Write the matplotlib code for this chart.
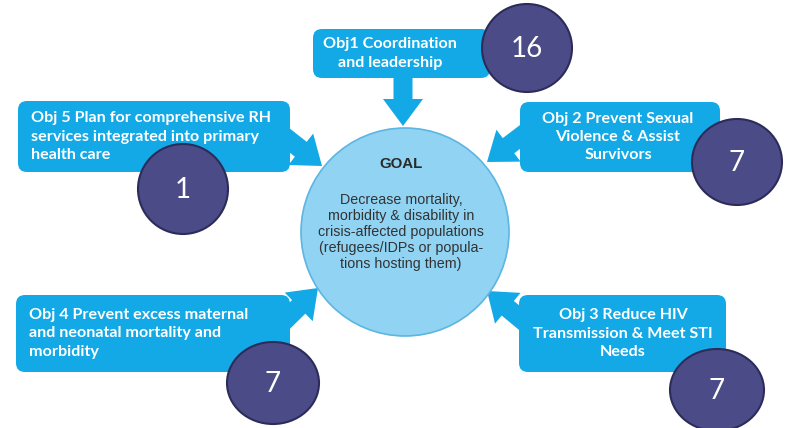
import matplotlib
matplotlib.use("Agg")
import matplotlib.pyplot as plt
from matplotlib.patches import FancyBboxPatch, Ellipse, Circle, FancyArrow

# ---- data ----
objectives = [
    "Obj1 Coordination\nand leadership",
    "Obj 5 Plan for comprehensive RH\nservices integrated into primary\nhealth care",
    "Obj 2 Prevent Sexual\nViolence & Assist\nSurvivors",
    "Obj 4 Prevent excess maternal\nand neonatal mortality and\nmorbidity",
    "Obj 3 Reduce HIV\nTransmission & Meet STI\nNeeds",
]
counts = [16, 1, 7, 7, 7]
goal_title = "GOAL"
goal_text = ("Decrease mortality,\nmorbidity & disability in\ncrisis-affected populations\n"
             "(refugees/IDPs or popula-\ntions hosting them)")

# ---- layout (pixel space) ----
W, H = 788, 428
BOX_C = "#12a9e6"
CIRC_C = "#4b4b88"
CIRC_E = "#2c2c5a"
GOAL_C = "#90d3f3"
GOAL_E = "#5db5e2"

# box: (x0, y0, x1, y1, text_x, align)
boxes = [
    (313, 29, 490, 78, 390, "center"),
    (18, 101, 290, 172, 31, "left"),
    (520, 102, 720, 172, 618, "center"),
    (16, 295, 290, 372, 29, "left"),
    (519, 295, 726, 372, 623, "center"),
]
# badge: (cx, cy, w, h)
badges = [
    (527, 48, 90, 88),
    (183, 189, 90, 90),
    (737, 162, 90, 86),
    (273, 383, 92, 82),
    (717, 390, 94, 82),
]
# arrows: (start_x, start_y, tip_x, tip_y)
arrows = [
    (403, 70, 403, 126),
    (270, 125, 322, 166),
    (545, 118, 487, 162),
    (270, 335, 318, 288),
    (540, 335, 487, 291),
]

fig = plt.figure(figsize=(W / 100, H / 100), dpi=100)
ax = fig.add_axes([0, 0, 1, 1])
ax.set_xlim(0, W)
ax.set_ylim(H, 0)
ax.axis("off")

# arrows
for (sx, sy, tx, ty) in arrows:
    ar = FancyArrow(sx, sy, tx - sx, ty - sy, width=19, head_width=40, head_length=27,
                    length_includes_head=True, color=BOX_C, lw=0, zorder=1)
    ax.add_patch(ar)

# goal circle
ax.add_patch(Circle((405, 232), 104, facecolor=GOAL_C, edgecolor=GOAL_E, lw=1.2, zorder=2))
ax.text(401, 164, goal_title, ha="center", va="center", fontsize=10.8, fontweight="bold",
        color="#2a2a2a", family="Liberation Sans", zorder=3)
ax.text(401, 232, goal_text, ha="center", va="center", fontsize=10.3, color="#333333",
        family="Liberation Sans", linespacing=1.17, zorder=3)

# boxes
for (x0, y0, x1, y1, tx, al), label in zip(boxes, objectives):
    ax.add_patch(FancyBboxPatch((x0, y0), x1 - x0, y1 - y0,
                                boxstyle="round,pad=0,rounding_size=9",
                                facecolor=BOX_C, edgecolor="none", zorder=4))
    ax.text(tx, (y0 + y1) / 2, label, ha=al, va="center", fontsize=11.6,
            fontweight="bold", color="white", family="Lato", linespacing=1.38, zorder=5)

# badges
for (cx, cy, w, h), n in zip(badges, counts):
    ax.add_patch(Ellipse((cx, cy), w, h, facecolor=CIRC_C, edgecolor=CIRC_E, lw=1.5, zorder=6))
    ax.text(cx, cy + 1, str(n), ha="center", va="center", fontsize=20, color="white",
            family="Lato", zorder=7)

fig.savefig("out.png", dpi=100, facecolor="white")
